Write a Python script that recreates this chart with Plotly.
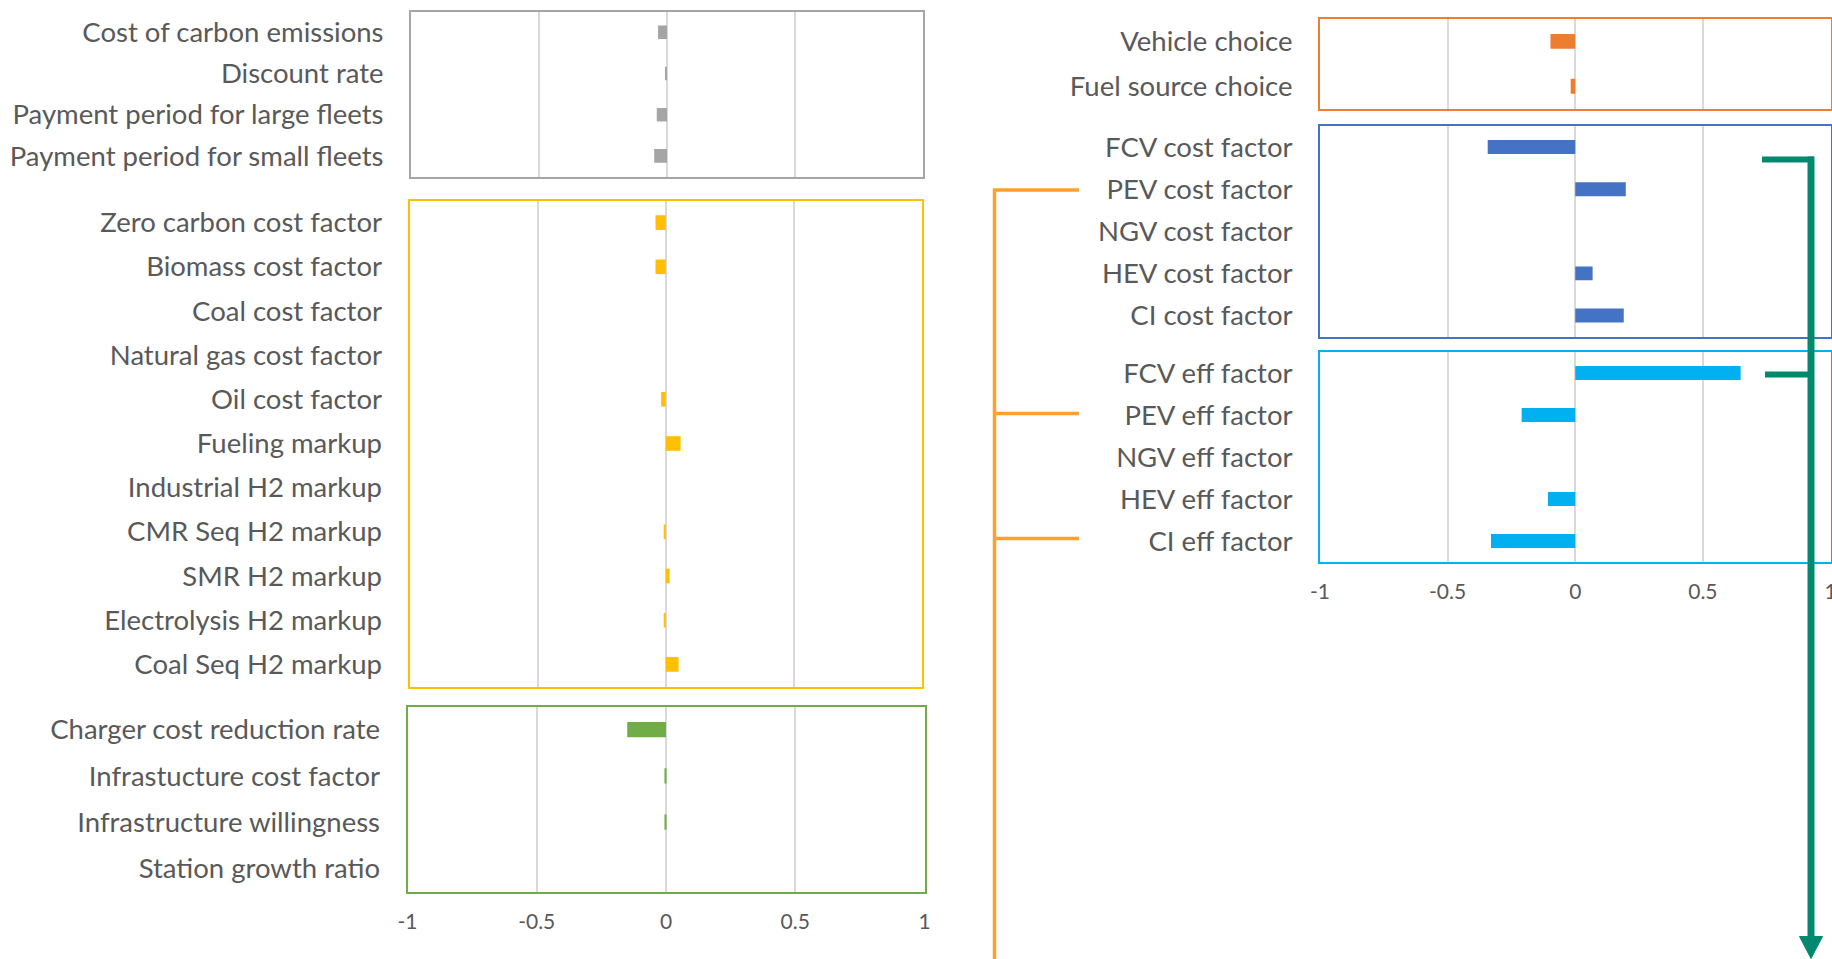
import plotly.graph_objects as go

W, H = 1832, 959

# ---------------- data ----------------
general_labels = ["Cost of carbon emissions", "Discount rate",
                  "Payment period for large fleets", "Payment period for small fleets"]
general_values = [-0.035, -0.008, -0.04, -0.05]

fuel_labels = ["Zero carbon cost factor", "Biomass cost factor", "Coal cost factor",
               "Natural gas cost factor", "Oil cost factor", "Fueling markup",
               "Industrial H2 markup", "CMR Seq H2 markup", "SMR H2 markup",
               "Electrolysis H2 markup", "Coal Seq H2 markup"]
fuel_values = [-0.04, -0.04, 0.0, 0.0, -0.018, 0.058, 0.0, -0.008, 0.015, -0.008, 0.05]

infra_labels = ["Charger cost reduction rate", "Infrastucture cost factor",
                "Infrastructure willingness", "Station growth ratio"]
infra_values = [-0.15, -0.006, -0.006, 0.0]

choice_labels = ["Vehicle choice", "Fuel source choice"]
choice_values = [-0.097, -0.018]

cost_labels = ["FCV cost factor", "PEV cost factor", "NGV cost factor",
               "HEV cost factor", "CI cost factor"]
cost_values = [-0.343, 0.198, 0.0, 0.068, 0.19]

eff_labels = ["FCV eff factor", "PEV eff factor", "NGV eff factor",
              "HEV eff factor", "CI eff factor"]
eff_values = [0.648, -0.21, 0.0, -0.107, -0.33]

x_ticks = [-1, -0.5, 0, 0.5, 1]
x_tick_text = ["-1", "-0.5", "0", "0.5", "1"]

# ---------------- styling ----------------
FONT = "Lato"
TXT = "#595959"
GRID = "#D9D9D9"

panels = [
    # labels, values, color, (x0,x1,y0,y1) in px, show x tick labels
    (general_labels, general_values, "#A5A5A5", (411, 923, 11.7, 176.5), False),
    (fuel_labels, fuel_values, "#FFC000", (409.5, 922, 200.5, 686.5), False),
    (infra_labels, infra_values, "#70AD47", (407.5, 924.5, 706.5, 891.5), True),
    (choice_labels, choice_values, "#ED7D31", (1320, 1830.5, 19, 108.7), False),
    (cost_labels, cost_values, "#4472C4", (1320, 1830.5, 126, 336.6), False),
    (eff_labels, eff_values, "#00B0F0", (1320, 1830.5, 352, 562), True),
]

fig = go.Figure()
layout = dict(
    width=W, height=H, autosize=False,
    margin=dict(l=0, r=0, t=0, b=0, pad=0),
    paper_bgcolor="white", plot_bgcolor="white",
    showlegend=False, bargap=0.67,
    font=dict(family=FONT, color=TXT),
)

for i, (labels, values, color, (x0, x1, y0, y1), show_x) in enumerate(panels, start=1):
    xa = "x" if i == 1 else f"x{i}"
    ya = "y" if i == 1 else f"y{i}"
    fig.add_trace(go.Bar(
        x=values, y=labels, orientation="h",
        marker=dict(color=color, line=dict(width=0)),
        xaxis=xa, yaxis=ya, hoverinfo="x+y",
    ))
    xkey = "xaxis" if i == 1 else f"xaxis{i}"
    ykey = "yaxis" if i == 1 else f"yaxis{i}"
    layout[xkey] = dict(
        domain=[x0 / W, x1 / W], anchor=ya, range=[-1, 1],
        tickvals=x_ticks, ticktext=x_tick_text, showticklabels=show_x,
        showgrid=True, gridcolor=GRID, gridwidth=1.5, zeroline=False,
        showline=True, linecolor=color, linewidth=2, mirror=True,
        ticks="", ticklabelstandoff=10, automargin=False,
        ticklabeloverflow="allow",
        tickfont=dict(family=FONT, size=21, color=TXT),
    )
    n = len(labels)
    layout[ykey] = dict(
        domain=[1 - y1 / H, 1 - y0 / H], anchor=xa,
        type="category", categoryorder="array", categoryarray=labels,
        range=[n - 0.5, -0.5],
        showgrid=False, zeroline=False,
        showline=True, linecolor=color, linewidth=2, mirror=True,
        ticks="", ticklabelstandoff=20, automargin=False,
        tickfont=dict(family=FONT, size=27.5, color=TXT),
    )

# ---------------- connector graphics ----------------
ORANGE = "#FDA02E"
TEAL = "#00896E"

def px(x):
    return x / W

def py(y):
    return 1 - y / H

shapes = []
# orange bracket
shapes.append(dict(type="line", xref="paper", yref="paper",
                   x0=px(994.5), x1=px(994.5), y0=py(189), y1=py(962),
                   line=dict(color=ORANGE, width=3.5)))
for yy in (190, 413.5, 538.5):
    shapes.append(dict(type="line", xref="paper", yref="paper",
                       x0=px(993), x1=px(1079), y0=py(yy), y1=py(yy),
                       line=dict(color=ORANGE, width=3.5)))
# teal arrow
shapes.append(dict(type="line", xref="paper", yref="paper",
                   x0=px(1762), x1=px(1814), y0=py(159.5), y1=py(159.5),
                   line=dict(color=TEAL, width=6)))
shapes.append(dict(type="line", xref="paper", yref="paper",
                   x0=px(1765), x1=px(1811), y0=py(374.5), y1=py(374.5),
                   line=dict(color=TEAL, width=6)))
shapes.append(dict(type="line", xref="paper", yref="paper",
                   x0=px(1811), x1=px(1811), y0=py(156.5), y1=py(940),
                   line=dict(color=TEAL, width=7)))
shapes.append(dict(type="path", xref="paper", yref="paper",
                   path=f"M {px(1799.5)} {py(936.5)} L {px(1822.5)} {py(936.5)} L {px(1811)} {py(958.5)} Z",
                   fillcolor=TEAL, line=dict(color=TEAL, width=1)))
layout["shapes"] = shapes

fig.update_layout(**layout)

fig.write_html(
    "out.html",
    config={"displayModeBar": False},
    post_script="document.body.style.margin='0';document.body.style.overflow='hidden';",
)
